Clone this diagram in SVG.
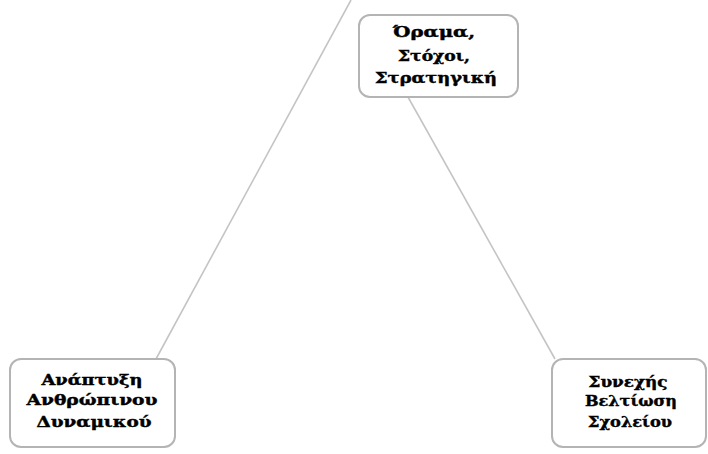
<svg xmlns="http://www.w3.org/2000/svg" width="708" height="454" viewBox="0 0 708 454">
<style>
.box{fill:#fff;stroke:#b4b4b4;stroke-width:2}
.t{font-family:"DejaVu Serif","Liberation Serif",serif;font-weight:bold;font-size:14px;fill:#000;stroke:#000;stroke-width:0.4;text-anchor:middle}
.c{stroke:#c4c4c4;stroke-width:1.6;fill:none}
</style>
<rect width="708" height="454" fill="#fff"/>
<g id="connectors">
<line class="c" x1="351" y1="0" x2="156" y2="359"/>
<line class="c" x1="408" y1="97" x2="555" y2="359"/>
</g>
<g id="node-vision">
<rect class="box" x="359" y="15" width="159" height="82" rx="11"/>
<text class="t" x="434" y="37" textLength="82" lengthAdjust="spacingAndGlyphs">Όραμα,</text>
<text class="t" x="434" y="61" textLength="72" lengthAdjust="spacingAndGlyphs">Στόχοι,</text>
<text class="t" x="436" y="83" textLength="122" lengthAdjust="spacingAndGlyphs">Στρατηγική</text>
</g>
<g id="node-hr">
<rect class="box" x="10" y="359" width="165" height="88" rx="11"/>
<text class="t" x="92" y="385" textLength="101" lengthAdjust="spacingAndGlyphs">Ανάπτυξη</text>
<text class="t" x="92" y="405" textLength="131" lengthAdjust="spacingAndGlyphs">Ανθρώπινου</text>
<text class="t" x="94" y="427" textLength="115" lengthAdjust="spacingAndGlyphs">Δυναμικού</text>
</g>
<g id="node-school">
<rect class="box" x="552" y="359" width="154" height="88" rx="11"/>
<text class="t" x="628" y="387" textLength="79" lengthAdjust="spacingAndGlyphs">Συνεχής</text>
<text class="t" x="631" y="406" textLength="92" lengthAdjust="spacingAndGlyphs">Βελτίωση</text>
<text class="t" x="630" y="427" textLength="84" lengthAdjust="spacingAndGlyphs">Σχολείου</text>
</g>
</svg>
